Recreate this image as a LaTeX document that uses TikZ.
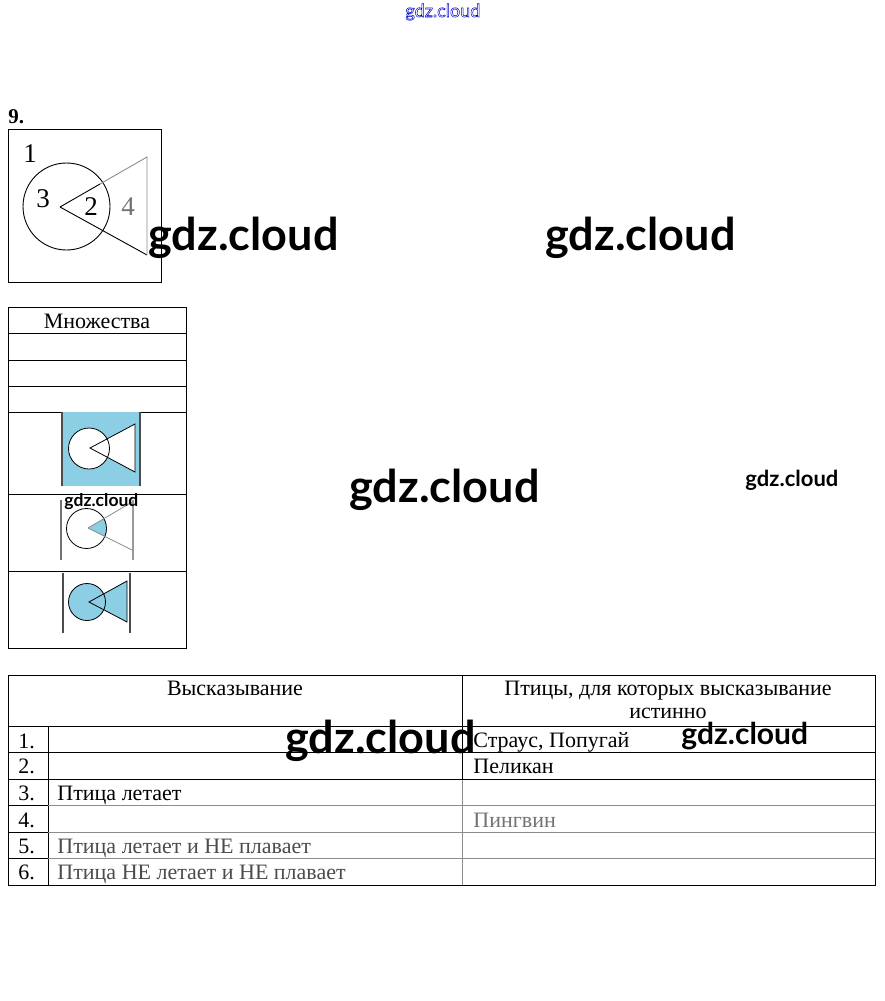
\documentclass[tikz,border=0pt]{standalone}
\usepackage{fontspec}
\setmainfont{Liberation Serif}
\newfontfamily\wmfont{Lato}
\definecolor{vennblue}{RGB}{140,206,228}
\begin{document}
\begin{tikzpicture}[x=1pt,y=-1pt,line width=0.9pt,
  txt/.style={inner sep=0pt,anchor=base west,font=\fontsize{22}{22}\selectfont},
  ctxt/.style={inner sep=0pt,anchor=base,font=\fontsize{22}{22}\selectfont},
  num/.style={inner sep=0pt,anchor=base west,font=\fontsize{27}{27}\selectfont},
  wm/.style={inner sep=0pt,anchor=base west,font=\wmfont\bfseries\fontsize{45}{45}\selectfont},
  grid/.style={line width=0.9pt,black},
  faint/.style={line width=0.9pt,black!45},
  edge/.style={line width=1.8pt,black!70}]
\useasboundingbox (0,0) rectangle (884,1001);
\fill[white] (0,0) rectangle (884,1001);

% title
\node[inner sep=0pt,anchor=base west,font=\bfseries\fontsize{21}{21}\selectfont] (title) at (8,123) {9.};

% Venn box
\draw[grid] (8,129) rectangle (161,282);
\draw[grid] (66.5,206.5) circle (43.5);
\draw[grid] (60,207) -- (147,255);
\draw[grid] (60,207) -- (100,184);
\draw[faint] (100,184) -- (147,157) -- (147,255);
\node[num] (n1) at (23,162) {1};
\node[num] (n3) at (36,207) {3};
\node[num] (n2) at (84,215) {2};
\node[num,text=black!55] (n4) at (121,215) {4};

% Sets table
\draw[grid] (8,307) rectangle (186,648);
\foreach \yy in {333,360,386,412,494,571} \draw[grid] (8,\yy) -- (186,\yy);
\node[ctxt] (sets) at (97,328) {Множества};

% row A: outside everything
\fill[vennblue] (62,412) rectangle (140,486);
\fill[white] (89,448.5) circle (20.5);
\fill[white] (90,448) -- (135,424) -- (135,472) -- cycle;
\draw[grid,line width=0.8pt] (89,448.5) circle (20.5);
\draw[grid,line width=0.8pt] (90,448) -- (135,424) -- (135,472) -- cycle;
\draw[edge] (62,412) -- (62,486);
\draw[edge] (140,412) -- (140,486);

% row B: intersection
\begin{scope}
\clip (86.5,528.5) circle (20);
\fill[vennblue] (88,528) -- (132,502) -- (132,550) -- cycle;
\end{scope}
\draw[grid,line width=0.8pt] (86.5,528.5) circle (20);
\draw[faint,line width=0.8pt] (88,528) -- (132,502);
\draw[faint,line width=0.8pt] (88,528) -- (132,550);
\draw[edge,black!55] (61,500) -- (61,560);
\draw[edge,black!40] (133,500) -- (133,560);

% row C: union
\fill[vennblue] (87,602) circle (18.5);
\fill[vennblue] (89,602) -- (127,581) -- (127,622) -- cycle;
\draw[grid,line width=0.8pt] (87,602) circle (18.5);
\draw[grid,line width=0.8pt] (89,602) -- (127,581) -- (127,622) -- cycle;
\draw[edge] (63,573) -- (63,633);
\draw[edge] (130,573) -- (130,633);

% statements table
\draw[grid] (8,675) rectangle (875,885);
\draw[grid] (462,675) -- (462,779);
\draw[faint] (462,779) -- (462,885);
\draw[grid] (48,726) -- (48,885);
\draw[grid] (8,726) -- (875,726);
\draw[grid] (8,752) -- (875,752);
\draw[grid] (8,779) -- (875,779);
\draw[faint] (48,805) -- (875,805);
\draw[faint] (48,832) -- (875,832);
\draw[faint] (48,858) -- (875,858);
\draw[grid] (8,805) -- (48,805);
\draw[grid] (8,832) -- (48,832);
\draw[grid] (8,858) -- (48,858);

\node[ctxt] (h1) at (235,695) {Высказывание};
\node[ctxt] (h2) at (668,695) {Птицы, для которых высказывание};
\node[ctxt] (h3) at (668,718) {истинно};

\node[txt] (r1) at (18,748) {1.};
\node[txt] (r2) at (18,773) {2.};
\node[txt] (r3) at (18,800) {3.};
\node[txt] (r4) at (18,827) {4.};
\node[txt] (r5) at (18,853) {5.};
\node[txt] (r6) at (18,879) {6.};

\node[txt] (s3) at (57,800) {Птица летает};
\node[txt,text=black!70] (s5) at (57,853) {Птица летает и НЕ плавает};
\node[txt,text=black!70] (s6) at (57,879) {Птица НЕ летает и НЕ плавает};

\node[txt] (b1) at (473,747) {Страус, Попугай};
\node[txt] (b2) at (473,773) {Пеликан};
\node[txt,text=black!55] (b4) at (473,827) {Пингвин};

% watermarks
\node[wm] (w1) at (148,250) {gdz.cloud};
\node[wm] (w2) at (545,250) {gdz.cloud};
\node[wm] (w3) at (349,502) {gdz.cloud};
\node[wm,font=\wmfont\bfseries\fontsize{22}{22}\selectfont] (w4) at (745,486) {gdz.cloud};
\node[wm,font=\wmfont\bfseries\fontsize{17.5}{17.5}\selectfont] (w5) at (64,506) {gdz.cloud};
\node[wm] (w6) at (285,753) {gdz.cloud};
\node[wm,font=\wmfont\bfseries\fontsize{30}{30}\selectfont] (w7) at (681,744) {gdz.cloud};
\node[wm,font=\wmfont\fontsize{18}{18}\selectfont,text=white,draw=none] (w8) at (405,17) {\special{pdf:literal 1 Tr 0 0 0.82 RG 0.5 w}gdz.cloud\special{pdf:literal 0 Tr}};
\end{tikzpicture}
\end{document}
